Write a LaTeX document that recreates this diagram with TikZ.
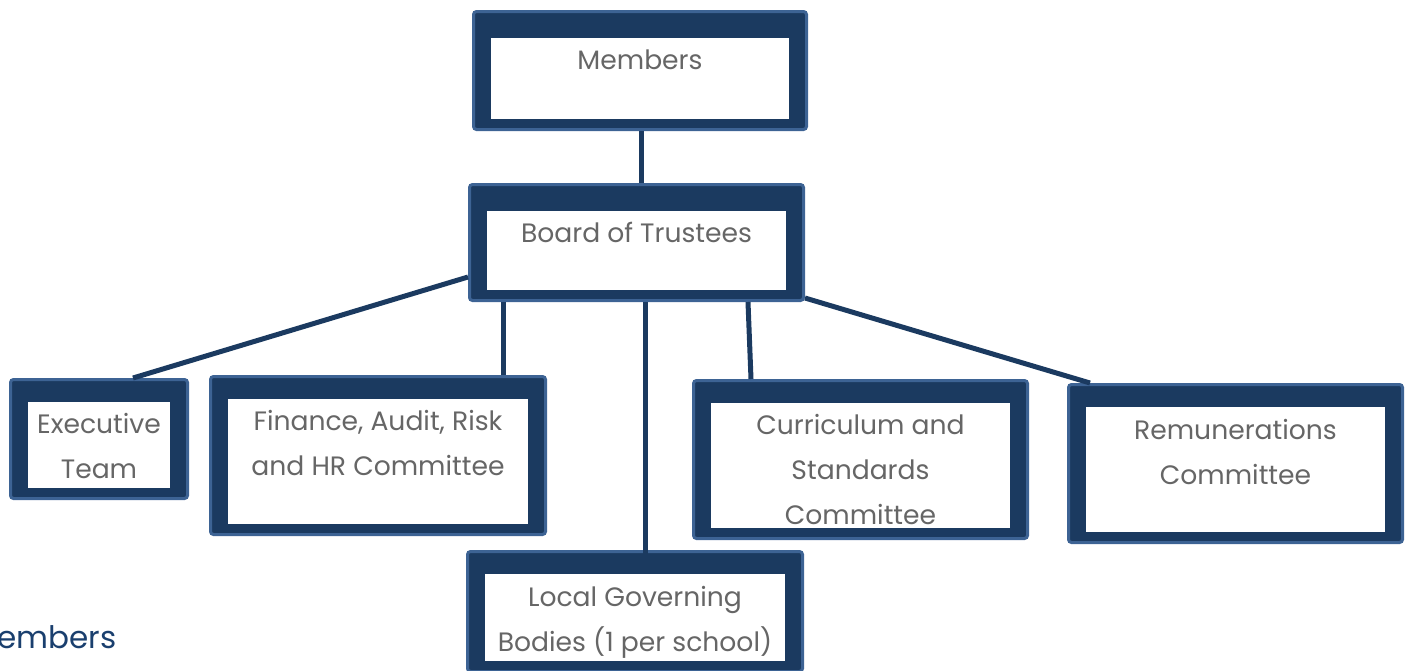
\documentclass[tikz,border=0pt]{standalone}
\usepackage{fontspec}
\setmainfont{Poppins}
\usepackage{xcolor}
\usepackage{tikz}
\usetikzlibrary{positioning}
\definecolor{navy}{HTML}{1B3A60}
\definecolor{edgeblue}{HTML}{3D6394}
\definecolor{textgray}{HTML}{666666}
\definecolor{footblue}{HTML}{1A3F6E}
\tikzset{
    orgbox/.style = {rectangle, draw=edgeblue, fill=navy, line width=1.5pt, rounded corners=1.5pt, inner sep=0pt,
        path picture={\fill[white, sharp corners] ([shift={(8.75pt,-#1)}]path picture bounding box.north west)
            rectangle ([shift={(-8.75pt,5.25pt)}]path picture bounding box.south east);}},
    orgbox/.default = 11.25pt,
    orgtext/.style = {align=center, inner sep=0pt, text=textgray, font=\fontsize{13.3}{22.5}\selectfont},
    link/.style = {draw=navy, line width=2.5pt}
}

\begin{document}
\begin{tikzpicture}[x=0.5pt, y=-0.5pt]
    \useasboundingbox (0,0) rectangle (1409,670);

    \node [orgbox=13.25pt, minimum width=166.5pt, minimum height=59pt] (members) at (640,70.5) {};
    \node [orgbox=13.25pt, minimum width=167pt, minimum height=58pt] (board) at (636.5,242.5) {};
    \node [orgbox, minimum width=88.5pt, minimum height=59.5pt] (exec) at (99,439) {};
    \node [orgbox, minimum width=167.5pt, minimum height=79pt] (finance) at (378,455.5) {};
    \node [orgbox, minimum width=167pt, minimum height=79pt] (curric) at (860.5,459.5) {};
    \node [orgbox, minimum width=167pt, minimum height=79pt] (remun) at (1235.5,463.5) {};
    \node [orgbox, minimum width=167.5pt, minimum height=60pt] (lgb) at (635,611.5) {};

    \draw [link] ([xshift=0.5pt]members.south) -- ([xshift=2.25pt]board.north);
    \draw [link] ([yshift=12.5pt]board.south west) -- ([xshift=17pt]exec.north);
    \draw [link] ([xshift=-66.75pt]board.south) -- ([xshift=62.5pt]finance.north);
    \draw [link] ([xshift=4.25pt]board.south) -- ([xshift=5pt,yshift=-11.5pt]lgb.north);
    \draw [link] ([xshift=55.75pt]board.south) -- ([xshift=-54.75pt]curric.north);
    \draw [link] ([yshift=2pt]board.south east) -- ([xshift=11.5pt]remun.north west);

    \node [orgtext, below=19.5pt of members.north] (members-t) {Members};
    \node [orgtext, below=19.5pt of board.north] (board-t) {Board of Trustees};
    \node [orgtext, below=17.5pt of exec.north] (exec-t) {Executive\\Team};
    \node [orgtext, below=17.5pt of finance.north] (finance-t) {Finance, Audit, Risk\\and HR Committee};
    \node [orgtext, below=17.5pt of curric.north] (curric-t) {Curriculum and\\Standards\\Committee};
    \node [orgtext, below=18pt of remun.north] (remun-t) {Remunerations\\Committee};
    \node [orgtext, below=18pt of lgb.north] (lgb-t) {Local Governing\\Bodies (1 per school)};

    \node [anchor=base east, inner sep=0pt, text=footblue, font=\fontsize{15.5}{18}\selectfont] (footer) at (117,648) {Members};
\end{tikzpicture}
\end{document}
